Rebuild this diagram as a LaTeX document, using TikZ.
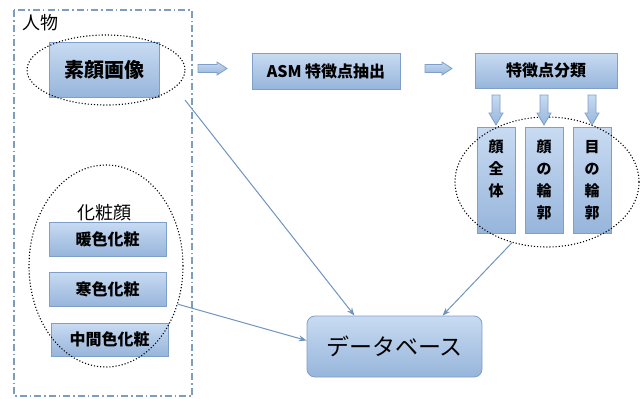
\documentclass[tikz,border=0pt]{standalone}
\usepackage{fontspec}
\setmainfont{Noto Sans CJK JP}
\usetikzlibrary{shapes.geometric,arrows.meta}

\definecolor{boxline}{HTML}{7F9FC8}
\definecolor{boxtop}{HTML}{C8DBF2}
\definecolor{boxbot}{HTML}{97B5DB}
\definecolor{linkcol}{HTML}{7094BE}
\definecolor{framecol}{HTML}{7E9DBD}

\tikzset{
  stepbox/.style={draw=boxline, line width=0.8pt, top color=boxtop, bottom color=boxbot,
    font=\bfseries\fontsize{16}{18}\selectfont, inner sep=0pt},
  tallbox/.style={stepbox, minimum width=38pt, minimum height=106pt, align=center,
    font=\bfseries\fontsize{15}{22}\selectfont},
  ring/.style={ellipse, draw, dotted, line width=1.1pt, inner sep=0pt},
  link/.style={draw=linkcol, line width=1pt, -{Stealth[length=8pt,width=6pt]}},
  blockarrow/.style={draw=boxline, line width=0.8pt, top color=boxtop, bottom color=boxbot},
  frame/.style={draw=framecol, line width=1.2pt, dash pattern=on 7pt off 3pt on 1.5pt off 3pt}
}

\begin{document}
\begin{tikzpicture}[x=1pt,y=-1pt]
\useasboundingbox (0,0) rectangle (643,399);

% left frame
\draw [frame] (14,10) rectangle (192,396);
\node (person) at (41,23) {\fontsize{18}{20}\selectfont 人物};

% boxes
\node [stepbox, minimum width=110pt, minimum height=55pt, font=\bfseries\fontsize{20}{22}\selectfont] (sugao) at (104,69.5) {素顔画像};
\node [stepbox, minimum width=148pt, minimum height=36pt] (asm) at (326,71) {ASM 特徴点抽出};
\node [stepbox, minimum width=142pt, minimum height=35pt] (cls) at (546,70.5) {特徴点分類};
\node [tallbox] (whole) at (496,180) {顔\\全\\体\\\phantom{体}};
\node [tallbox] (contour) at (544,180) {顔\\の\\輪\\郭};
\node [tallbox] (eye) at (592,180) {目\\の\\輪\\郭};

\node (mklabel) at (104,213) {\fontsize{18}{20}\selectfont 化粧顔};
\node [stepbox, minimum width=117pt, minimum height=34pt] (warm) at (107.5,239) {暖色化粧};
\node [stepbox, minimum width=117pt, minimum height=34pt] (cold) at (107.5,289) {寒色化粧};
\node [stepbox, minimum width=117pt, minimum height=33pt] (mid) at (109.5,339.5) {中間色化粧};

\node [stepbox, rounded corners=8pt, minimum width=175pt, minimum height=61pt,
  font=\fontsize{23}{25}\selectfont] (db) at (394.5,346.5) {データベース};

% dotted groups
\node [ring, minimum width=158pt, minimum height=70pt] (sugaoring) at (106,70) {};
\node [ring, minimum width=154pt, minimum height=202pt] (mkring) at (106,266) {};
\node [ring, minimum width=184pt, minimum height=130pt] (clsring) at (547,182) {};

% block arrows
\draw [blockarrow] (198,64.5) -- (217,64.5) -- (217,62) -- (227,68.5) -- (217,75) -- (217,72.5) -- (198,72.5) -- cycle;
\draw [blockarrow] (425,64.5) -- (442,64.5) -- (442,62) -- (452,68.5) -- (442,75) -- (442,72.5) -- (425,72.5) -- cycle;
\foreach \x in {496,544,592}
  \draw [blockarrow] (\x-4,95) -- (\x+4,95) -- (\x+4,113) -- (\x+7,113) -- (\x,125) -- (\x-7,113) -- (\x-4,113) -- cycle;

% links to the database
\coordinate (s1) at (185,100);
\draw [link] (s1) -- ([xshift=-40pt]db.north);
\draw [link] (mkring.-28) -- ([yshift=6pt]db.west);
\draw [link] (clsring.-120) -- ([xshift=48pt]db.north);
\end{tikzpicture}
\end{document}
